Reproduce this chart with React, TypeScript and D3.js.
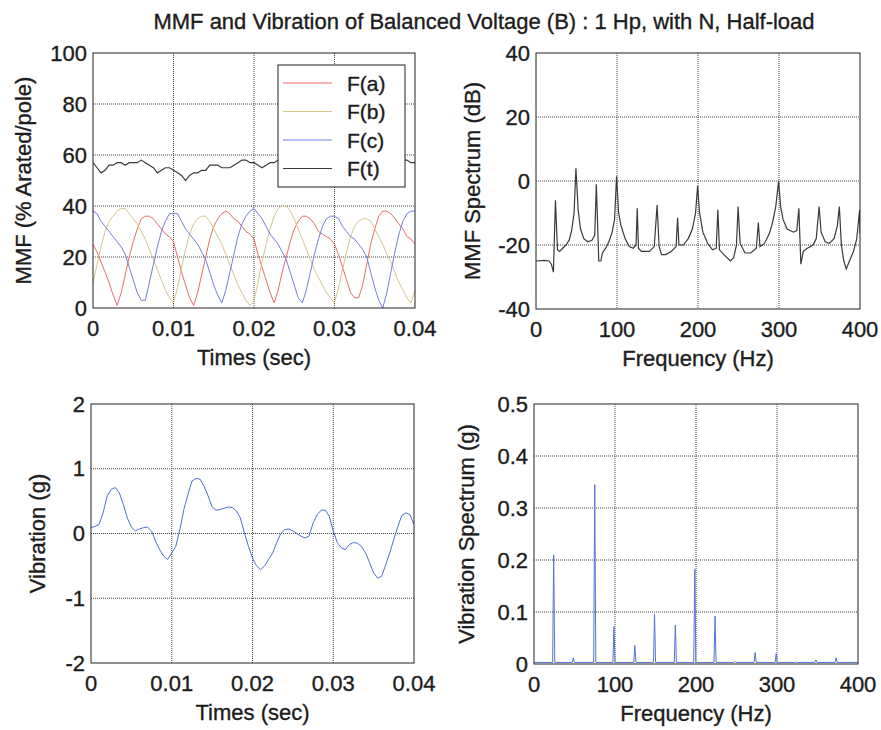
import React from "react";
import * as d3 from "d3";

const FONT = "'Liberation Sans', Arial, Helvetica, sans-serif";
const INK = "#1c1c1c";

// axis ticks
const timeTicks = [0, 0.01, 0.02, 0.03, 0.04];
const freqTicks = [0, 100, 200, 300, 400];
const mmfTicks = [0, 20, 40, 60, 80, 100];
const dbTicks = [-40, -20, 0, 20, 40];
const vibTicks = [-2, -1, 0, 1, 2];
const vibSpecTicks = [0, 0.1, 0.2, 0.3, 0.4, 0.5];

// time samples, 0.5 ms apart (0 .. 0.04 s)
const sampleTimes = d3.range(81).map((i) => i * 0.0005);

// MMF per phase (% Arated/pole)
const fa = [
  25, 22, 18, 14, 10, 5, 1, 6, 13, 20,
  26, 31, 35, 36, 36, 35, 33, 31, 29, 28,
  26, 20, 14, 9, 4, 1, 6, 13, 20, 27,
  32, 35, 37, 38, 37, 35, 34, 32, 30, 29,
  27, 21, 16, 11, 6, 2, 7, 14, 20, 26,
  31, 34, 36, 36, 35, 33, 30, 29, 28, 27,
  25, 21, 16, 11, 6, 4, 4, 9, 17, 25,
  31, 36, 38, 38, 37, 35, 33, 31, 28, 27,
  25,
];
const fb = [
  10, 17, 24, 30, 34, 36, 38, 39, 39, 37,
  35, 33, 30, 27, 23, 19, 15, 11, 7, 4,
  2, 8, 16, 23, 29, 33, 35, 36, 36, 34,
  31, 28, 25, 21, 17, 13, 9, 6, 3, 1,
  3, 10, 18, 25, 31, 36, 39, 40, 40, 38,
  35, 31, 27, 23, 19, 15, 12, 9, 6, 4,
  2, 8, 15, 22, 28, 32, 34, 35, 35, 34,
  31, 28, 25, 21, 18, 14, 10, 7, 4, 2,
  7,
];
const fc = [
  38, 37, 34, 32, 30, 28, 26, 24, 21, 16,
  11, 6, 3, 3, 10, 17, 24, 30, 34, 37,
  37, 37, 34, 31, 29, 27, 25, 22, 19, 14,
  9, 5, 2, 7, 14, 21, 28, 33, 36, 38,
  39, 37, 35, 32, 29, 27, 25, 22, 19, 14,
  9, 4, 2, 7, 14, 21, 27, 32, 35, 36,
  36, 35, 32, 30, 28, 27, 25, 23, 20, 14,
  8, 3, 0, 6, 14, 22, 29, 34, 37, 38,
  38,
];
const ft = [
  57, 55, 53, 54, 56, 56, 57, 57, 56, 57,
  57, 57, 58, 57, 56, 55, 53, 54, 55, 55,
  54, 53, 52, 50, 52, 53, 53, 54, 54, 56,
  56, 56, 55, 55, 55, 56, 57, 58, 58, 57,
  57, 56, 55, 56, 57, 57, 58, 58, 57, 57,
  56, 57, 58, 57, 56, 57, 58, 57, 56, 55,
  56, 57, 58, 57, 56, 57, 58, 57, 56, 57,
  57, 58, 58, 57, 56, 57, 58, 58, 58, 57,
  57,
];

// vibration (g)
const vibration = [
  0.09, 0.11, 0.14, 0.32, 0.58, 0.68, 0.71, 0.63, 0.45, 0.24,
  0.1, 0.04, 0.07, 0.09, 0.1, 0.04, -0.12, -0.25, -0.35, -0.4,
  -0.3, -0.2, 0.06, 0.37, 0.6, 0.81, 0.85, 0.84, 0.73, 0.58,
  0.41, 0.36, 0.37, 0.39, 0.41, 0.4, 0.35, 0.24, 0.01, -0.2,
  -0.38, -0.5, -0.56, -0.5, -0.4, -0.3, -0.14, 0.0, 0.06, 0.07,
  0.04, 0.0, -0.04, -0.07, -0.04, 0.16, 0.29, 0.36, 0.36, 0.27,
  0.04, -0.14, -0.22, -0.25, -0.17, -0.14, -0.15, -0.2, -0.3, -0.45,
  -0.61, -0.69, -0.66, -0.48, -0.3, -0.09, 0.11, 0.28, 0.32, 0.29,
  0.14,
];

// MMF spectrum (Hz, dB)
const mmfSpecFreq = [
  0, 10, 16, 19, 21.5, 24, 26.5, 29, 33, 37, 41, 44, 47, 49.3, 52, 55, 59, 64, 69, 72.5,
  74.5, 77.5, 80, 82, 86, 90, 94, 97, 99.5, 102, 105, 110, 115, 120, 123.5, 125, 126.5, 130, 140, 146,
  149.5, 152, 155, 160, 167, 173, 174.8, 176.5, 182, 188, 193, 197, 199.5, 202, 206, 212, 218, 222.5, 224.5, 226.5,
  232, 240, 244, 247.5, 249.5, 252, 258, 265, 272, 274.5, 276.5, 282, 288, 292, 296, 299.5, 302, 305, 310, 318,
  322, 324.5, 327, 330, 335, 342, 346, 349.5, 352, 357, 362, 368, 372, 374.5, 377, 380, 383, 387, 392, 396,
  399.5, 400,
];
const mmfSpecDb = [
  -25, -24.8, -25, -26, -28.5, -6, -21.5, -22, -21, -20, -18.5, -15.5, -10, 4, -9, -15, -18, -19, -18.5, -17,
  -1, -25, -25, -22.5, -21, -19, -16, -12, 1.5, -10, -14, -18, -20.5, -21, -20, -8.5, -21, -22, -22, -20.5,
  -7.5, -20.5, -23, -23, -22, -20.5, -11.5, -20, -20, -18, -15, -10, -1.5, -10, -16, -19.5, -21.5, -21, -9, -21.5,
  -23, -25, -24, -20, -8, -19.5, -22.5, -22.5, -21, -13, -20.5, -19.5, -16.5, -13, -8, 0, -8, -12, -15, -16,
  -15.5, -8.5, -26, -22, -21, -20, -18, -8, -16, -19, -19.5, -18, -14, -8, -20, -25, -27.5, -25, -22, -18,
  -9, -16.5,
];

// vibration spectrum lines (Hz, g)
const vibPeakFreq = [24.3, 48.5, 75, 98.7, 124.5, 148.8, 174.5, 198.5, 223.5, 248, 273, 299, 323, 348, 373];
const vibPeakAmp = [0.21, 0.012, 0.345, 0.072, 0.036, 0.096, 0.075, 0.182, 0.092, 0.005, 0.022, 0.02, 0.004, 0.008, 0.012];
const vibFloor = 0.003;

type Box = { left: number; right: number; top: number; bottom: number };

type PanelProps = {
  box: Box;
  xDomain: [number, number];
  yDomain: [number, number];
  xTicks: number[];
  yTicks: number[];
  xLabel: string;
  yLabel: string;
  yLabelX: number;
  children: (x: d3.ScaleLinear<number, number>, y: d3.ScaleLinear<number, number>) => React.ReactNode;
};

// scanned MATLAB text looks a bit heavier than plain Arial
const txt = { fill: INK, stroke: INK, strokeWidth: 0.35 };

const Panel = ({ box, xDomain, yDomain, xTicks, yTicks, xLabel, yLabel, yLabelX, children }: PanelProps) => {
  const x = d3.scaleLinear().domain(xDomain).range([box.left, box.right]);
  const y = d3.scaleLinear().domain(yDomain).range([box.bottom, box.top]);
  const midY = (box.top + box.bottom) / 2;
  const midX = (box.left + box.right) / 2;
  const clipId = "clip" + box.left + "_" + box.top;
  return (
    <g>
      <rect x={box.left} y={box.top} width={box.right - box.left} height={box.bottom - box.top} fill="#fff" />
      {xTicks.slice(1, -1).map((t) => (
        <line key={"gx" + t} x1={x(t)} x2={x(t)} y1={box.top} y2={box.bottom}
          stroke="#444" strokeWidth={1} strokeDasharray="1 1" />
      ))}
      {yTicks.slice(1, -1).map((t) => (
        <line key={"gy" + t} x1={box.left} x2={box.right} y1={y(t)} y2={y(t)}
          stroke="#444" strokeWidth={1} strokeDasharray="1 1" />
      ))}
      <clipPath id={clipId}>
        <rect x={box.left} y={box.top} width={box.right - box.left} height={box.bottom - box.top} />
      </clipPath>
      <g clipPath={`url(#${clipId})`}>{children(x, y)}</g>
      <rect x={box.left} y={box.top} width={box.right - box.left} height={box.bottom - box.top}
        fill="none" stroke="#222" strokeWidth={1} />
      {xTicks.map((t) => (
        <text key={"tx" + t} x={x(t)} y={box.bottom + 20} textAnchor="middle" dominantBaseline="central"
          fontSize={22} {...txt}>{String(t)}</text>
      ))}
      {yTicks.map((t) => (
        <text key={"ty" + t} x={box.left - 6} y={y(t)} textAnchor="end" dominantBaseline="central"
          fontSize={22} {...txt}>{String(t)}</text>
      ))}
      <text x={midX} y={box.bottom + 49} textAnchor="middle" dominantBaseline="central" fontSize={22} {...txt}>
        {xLabel}
      </text>
      <text transform={`translate(${yLabelX},${midY}) rotate(-90)`} textAnchor="middle" dominantBaseline="central"
        fontSize={22} {...txt}>
        {yLabel}
      </text>
    </g>
  );
};

const phaseSeries = [
  { name: "F(a)", values: fa, color: "#ee6a6a", width: 1 },
  { name: "F(b)", values: fb, color: "#d6c48c", width: 1 },
  { name: "F(c)", values: fc, color: "#6f7fdc", width: 1 },
  { name: "F(t)", values: ft, color: "#3a3a3a", width: 1.2 },
];

export default function App() {
  const legendBox = { x: 278, y: 65, w: 127, h: 122 };
  return (
    <svg width={881} height={730} style={{ display: "block", position: "absolute", left: 0, top: 0 }}
      fontFamily={FONT}>
      <rect width={881} height={730} fill="#fff" />
      <text x={484} y={21} textAnchor="middle" dominantBaseline="central" fontSize={22} {...txt}>
        MMF and Vibration of Balanced Voltage (B) : 1 Hp, with N, Half-load
      </text>

      <Panel box={{ left: 93, right: 415, top: 53, bottom: 308 }} xDomain={[0, 0.04]} yDomain={[0, 100]}
        xTicks={timeTicks} yTicks={mmfTicks} xLabel="Times (sec)" yLabel="MMF (% Arated/pole)" yLabelX={23}>
        {(x, y) => {
          const line = d3.line<number>().x((_, i) => x(sampleTimes[i])).y((d) => y(d));
          return phaseSeries.map((s) => (
            <path key={s.name} d={line(s.values) ?? ""} fill="none" stroke={s.color} strokeWidth={s.width} />
          ));
        }}
      </Panel>
      <g>
        <rect x={legendBox.x} y={legendBox.y} width={legendBox.w} height={legendBox.h} fill="#fff"
          stroke="#222" strokeWidth={1} />
        {phaseSeries.map((s, i) => {
          const cy = 83 + i * 28.5;
          return (
            <g key={s.name}>
              <line x1={283} x2={332} y1={cy} y2={cy} stroke={s.color} strokeWidth={s.width} />
              <text x={347} y={cy} dominantBaseline="central" fontSize={21} {...txt}>{s.name}</text>
            </g>
          );
        })}
      </g>

      <Panel box={{ left: 536, right: 860, top: 53, bottom: 309 }} xDomain={[0, 400]} yDomain={[-40, 40]}
        xTicks={freqTicks} yTicks={dbTicks} xLabel="Frequency (Hz)" yLabel="MMF Spectrum (dB)" yLabelX={472}>
        {(x, y) => {
          const line = d3.line<number>().x((d) => x(d)).y((_, i) => y(mmfSpecDb[i]));
          return <path d={line(mmfSpecFreq) ?? ""} fill="none" stroke="#3a3a3a" strokeWidth={1.2} />;
        }}
      </Panel>

      <Panel box={{ left: 91, right: 414, top: 404, bottom: 663 }} xDomain={[0, 0.04]} yDomain={[-2, 2]}
        xTicks={timeTicks} yTicks={vibTicks} xLabel="Times (sec)" yLabel="Vibration (g)" yLabelX={37}>
        {(x, y) => {
          const line = d3.line<number>().x((_, i) => x(sampleTimes[i])).y((d) => y(d));
          return <path d={line(vibration) ?? ""} fill="none" stroke="#4f6fd2" strokeWidth={1} />;
        }}
      </Panel>

      <Panel box={{ left: 534, right: 858, top: 404, bottom: 664 }} xDomain={[0, 400]} yDomain={[0, 0.5]}
        xTicks={freqTicks} yTicks={vibSpecTicks} xLabel="Frequency (Hz)" yLabel="Vibration Spectrum (g)" yLabelX={466}>
        {(x, y) => {
          const pts: [number, number][] = [[0, vibFloor]];
          vibPeakFreq.forEach((f, i) => {
            pts.push([f - 1.3, vibFloor], [f, vibPeakAmp[i]], [f + 1.3, vibFloor]);
          });
          pts.push([400, vibFloor]);
          const line = d3.line<[number, number]>().x((d) => x(d[0])).y((d) => y(d[1]));
          return <path d={line(pts) ?? ""} fill="none" stroke="#5575d5" strokeWidth={1} />;
        }}
      </Panel>
    </svg>
  );
}
